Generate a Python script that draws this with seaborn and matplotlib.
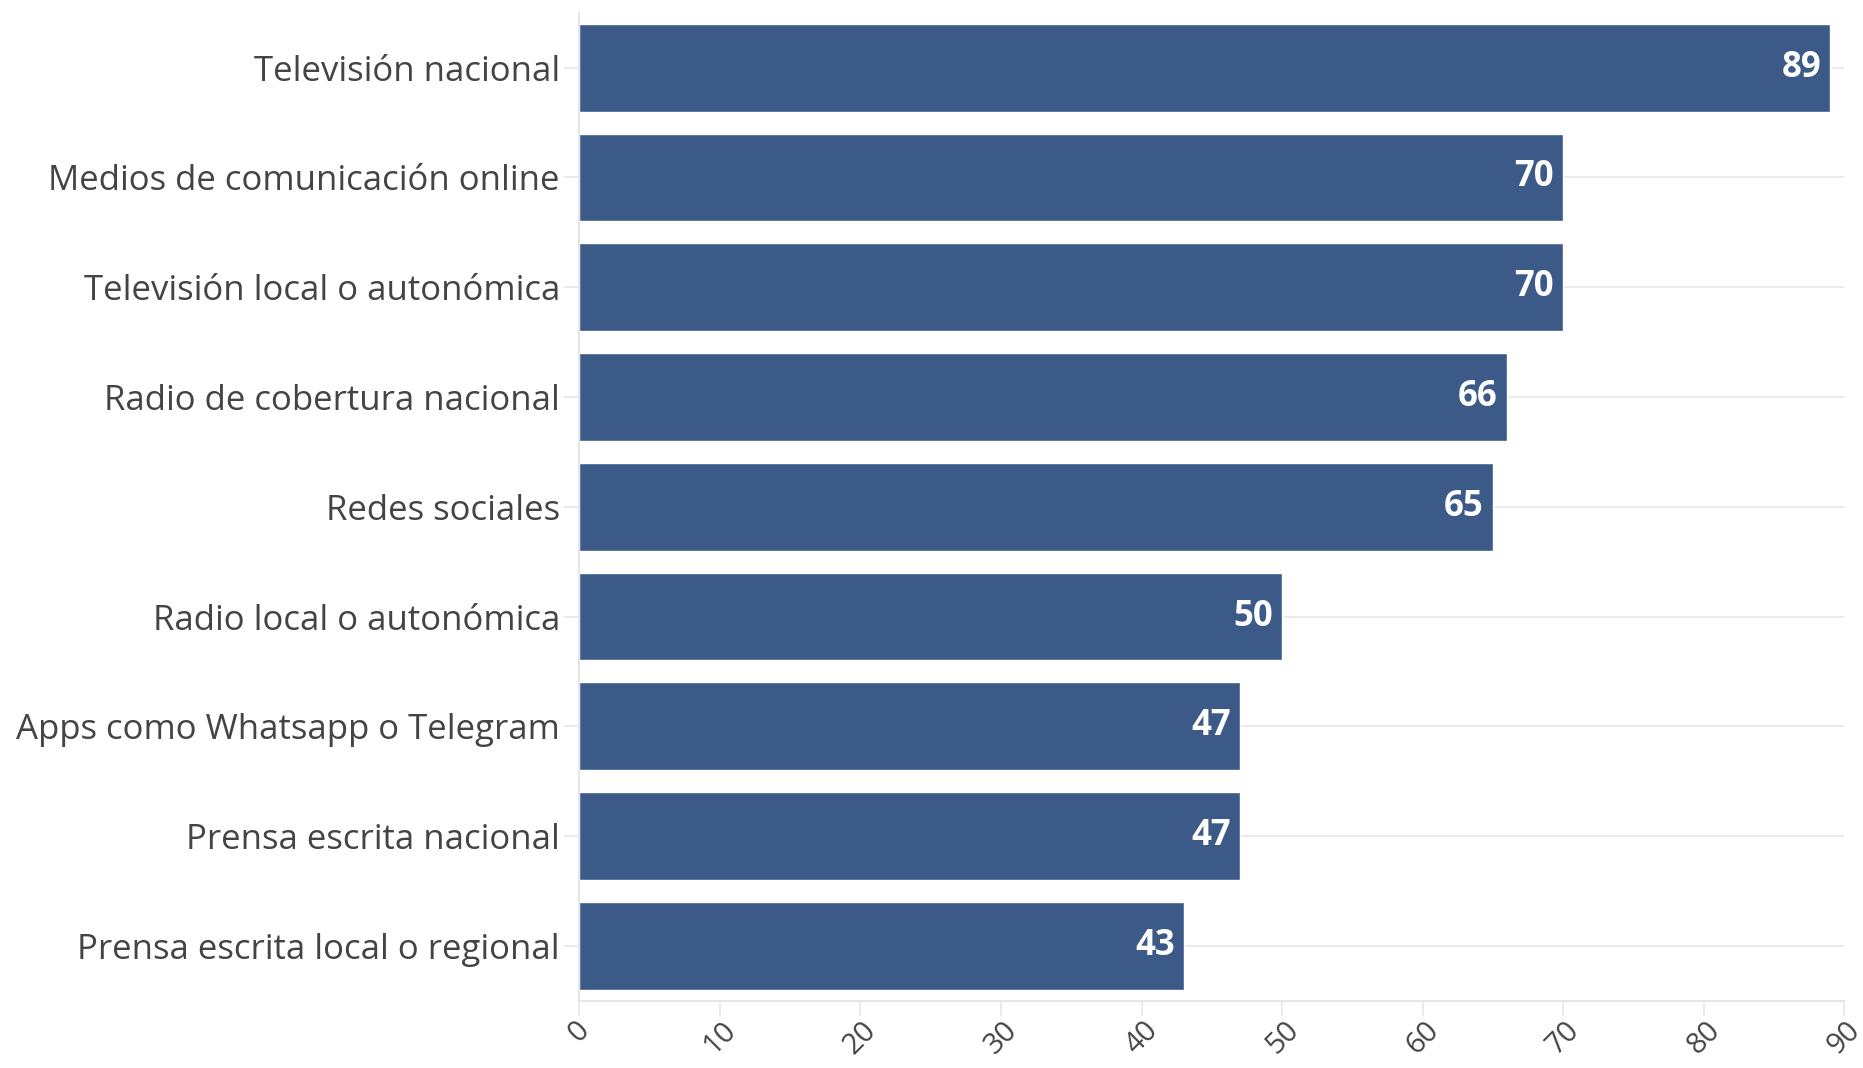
import matplotlib
matplotlib.use("Agg")
import matplotlib.pyplot as plt
import seaborn as sns
import pandas as pd

# Datos
medios = [
    "Televisión nacional",
    "Medios de comunicación online",
    "Televisión local o autonómica",
    "Radio de cobertura nacional",
    "Redes sociales",
    "Radio local o autonómica",
    "Apps como Whatsapp o Telegram",
    "Prensa escrita nacional",
    "Prensa escrita local o regional",
]
valores = [89, 70, 70, 66, 65, 50, 47, 47, 43]
ticks_x = [0, 10, 20, 30, 40, 50, 60, 70, 80, 90]

df = pd.DataFrame({"medio": medios, "valor": valores})

sns.set_theme(style="white")
plt.rcParams["font.family"] = ["Open Sans", "DejaVu Sans"]

fig = plt.figure(figsize=(18.63, 10.68), dpi=100)
ax = fig.add_axes([0.311, 0.063, 0.679, 0.925])

# lineas de fondo en cada categoria
for i in range(len(medios)):
    ax.axhline(i, color="#ebebeb", lw=1.5, zorder=0)

sns.barplot(data=df, x="valor", y="medio", color="#3b5a87", saturation=1,
            width=0.8, ax=ax, zorder=2)

for i, v in enumerate(valores):
    ax.text(v - 0.65, i, str(v), color="white", fontsize=25, fontweight="bold",
            ha="right", va="center", zorder=3)

ax.set_xlim(0, 90)
ax.set_ylim(len(medios) - 0.5, -0.5)
ax.set_xticks(ticks_x)
ax.set_xticklabels([str(t) for t in ticks_x], rotation=45, ha="center",
                   fontsize=21, color="#444444")
ax.tick_params(axis="y", labelsize=25, labelcolor="#444444", length=11,
               color="#e6e6e6", width=1.2, pad=3, left=True)
ax.tick_params(axis="x", length=11, color="#e6e6e6", width=1.2, pad=0, bottom=True)
ax.set_xlabel("")
ax.set_ylabel("")

for s in ["top", "right"]:
    ax.spines[s].set_visible(False)
for s in ["left", "bottom"]:
    ax.spines[s].set_color("#e6e6e6")
    ax.spines[s].set_linewidth(1.5)

fig.savefig("out.png", dpi=100)
